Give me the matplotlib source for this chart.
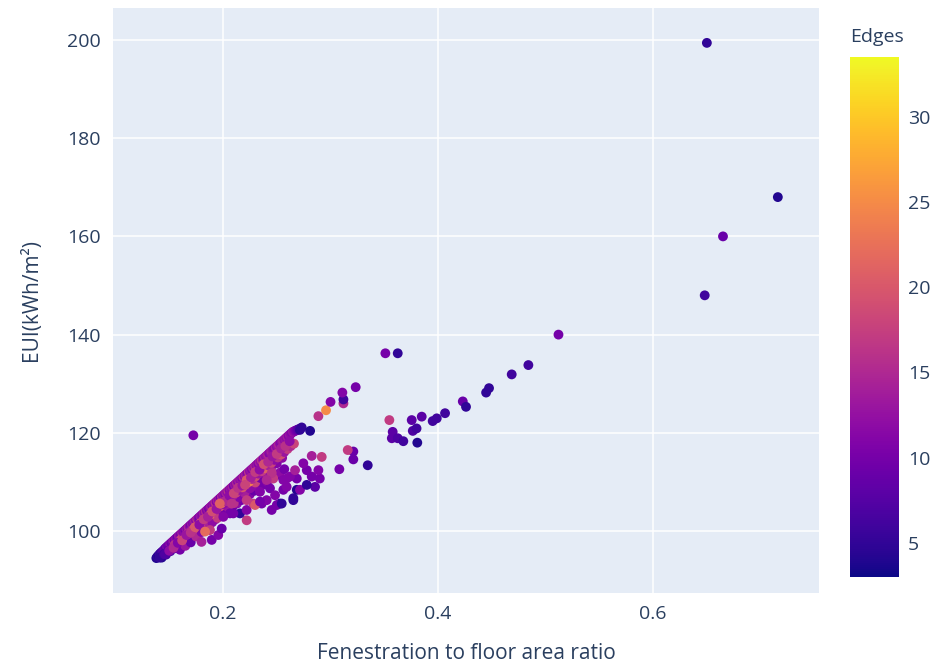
import matplotlib
matplotlib.use("Agg")
import matplotlib.pyplot as plt
import numpy as np

# ---- data (x = fenestration/floor area, y = EUI, c = edges) ----
band_x = [0.138, 0.139, 0.140, 0.141, 0.142, 0.143, 0.144, 0.145, 0.146, 0.147, 0.148,
          0.149, 0.150, 0.151, 0.152, 0.153, 0.154, 0.155, 0.156, 0.157, 0.158, 0.159,
          0.160, 0.161, 0.162, 0.163, 0.164, 0.165, 0.166, 0.167, 0.168, 0.169, 0.170,
          0.171, 0.172, 0.173, 0.174, 0.175, 0.176, 0.177, 0.178, 0.179, 0.180, 0.181,
          0.182, 0.183, 0.184, 0.185, 0.186, 0.187, 0.188, 0.189, 0.190, 0.191, 0.192,
          0.193, 0.194, 0.195, 0.196, 0.197, 0.198, 0.199, 0.200, 0.201, 0.202, 0.203,
          0.204, 0.205, 0.206, 0.207, 0.208, 0.209, 0.210, 0.211, 0.212, 0.213, 0.214,
          0.215, 0.216, 0.217, 0.218, 0.219, 0.220, 0.221, 0.222, 0.223, 0.224, 0.225,
          0.226, 0.227, 0.228, 0.229, 0.230, 0.231, 0.232, 0.233, 0.234, 0.235, 0.236,
          0.237, 0.238, 0.239, 0.240, 0.241, 0.242, 0.243, 0.244, 0.245, 0.246, 0.247,
          0.248, 0.249, 0.250, 0.251, 0.252, 0.253, 0.254, 0.255, 0.256, 0.257, 0.258,
          0.259, 0.260, 0.261, 0.262, 0.263, 0.264, 0.265, 0.266, 0.267, 0.268, 0.269,
          0.270, 0.271]
band_hi = [94.5, 94.8, 95.0, 95.3, 95.5, 95.7, 95.9, 96.1, 96.4, 96.6, 96.8,
           97.0, 97.2, 97.4, 97.6, 97.8, 98.0, 98.2, 98.4, 98.6, 98.8, 99.0,
           99.2, 99.4, 99.6, 99.8, 100.0, 100.2, 100.4, 100.6, 100.8, 101.0, 101.2,
           101.4, 101.6, 101.8, 102.0, 102.2, 102.4, 102.6, 102.8, 103.0, 103.2, 103.4,
           103.6, 103.8, 104.0, 104.2, 104.4, 104.6, 104.8, 105.0, 105.2, 105.4, 105.6,
           105.8, 106.0, 106.2, 106.4, 106.6, 106.8, 107.0, 107.2, 107.4, 107.6, 107.8,
           108.0, 108.2, 108.4, 108.6, 108.8, 109.0, 109.2, 109.4, 109.6, 109.8, 110.0,
           110.2, 110.4, 110.6, 110.8, 111.0, 111.2, 111.4, 111.6, 111.8, 112.0, 112.2,
           112.4, 112.6, 112.8, 113.0, 113.2, 113.4, 113.6, 113.8, 114.0, 114.2, 114.4,
           114.6, 114.8, 115.0, 115.2, 115.4, 115.6, 115.8, 116.0, 116.2, 116.4, 116.6,
           116.8, 117.0, 117.2, 117.4, 117.6, 117.8, 118.0, 118.2, 118.4, 118.6, 118.8,
           119.0, 119.2, 119.4, 119.6, 119.8, 120.0, 120.2, 120.3, 120.4, 120.5, 120.6,
           120.7, 120.8]
band_hi_c = [4, 5, 4, 6, 5, 6, 7, 8, 9, 8, 11,
             9, 10, 12, 9, 11, 13, 10, 12, 11, 9, 13,
             12, 10, 14, 11, 12, 10, 13, 11, 15, 12, 10,
             13, 11, 12, 14, 11, 16, 12, 10, 13, 12, 11,
             14, 12, 15, 11, 13, 10, 12, 14, 11, 13, 12,
             16, 11, 14, 12, 13, 10, 15, 12, 13, 11, 14,
             12, 16, 11, 13, 12, 14, 10, 13, 12, 15, 11,
             14, 12, 13, 11, 15, 12, 14, 13, 11, 16, 12,
             13, 11, 14, 12, 15, 12, 13, 11, 14, 12, 16,
             13, 11, 14, 12, 13, 15, 11, 12, 14, 13, 12,
             11, 14, 12, 13, 15, 12, 11, 13, 14, 12, 13,
             12, 14, 11, 13, 12, 11, 13, 12, 11, 10, 9,
             8, 7]

row_a_x = [0.146, 0.150, 0.154, 0.158, 0.162, 0.166, 0.170, 0.174, 0.178, 0.182,
           0.186, 0.190, 0.194, 0.198, 0.202, 0.206, 0.210, 0.214, 0.218, 0.222,
           0.226, 0.230, 0.234, 0.238, 0.242, 0.246, 0.250, 0.254, 0.258, 0.262]
row_a_y = [95.3, 96.0, 96.6, 97.6, 98.1, 99.2, 99.7, 100.8, 101.3, 102.4,
           102.9, 104.0, 104.5, 105.6, 106.1, 107.2, 107.7, 108.8, 109.3, 110.4,
           110.9, 112.0, 112.5, 113.6, 114.1, 115.2, 115.7, 116.8, 117.3, 118.3]
row_a_c = [7, 12, 15, 11, 18, 13, 16, 20, 12, 17,
           14, 19, 13, 22, 15, 12, 18, 16, 13, 20,
           14, 17, 12, 19, 15, 13, 17, 14, 16, 12]

row_b_x = [0.160, 0.165, 0.170, 0.175, 0.180, 0.185, 0.190, 0.195, 0.200, 0.205,
           0.210, 0.215, 0.220, 0.225, 0.230, 0.235, 0.240, 0.245, 0.250, 0.255]
row_b_y = [96.2, 97.0, 97.7, 98.9, 99.8, 100.7, 101.8, 102.7, 103.9, 104.8,
           105.7, 106.9, 107.8, 108.7, 109.9, 110.8, 111.7, 112.9, 113.8, 114.9]
row_b_c = [10, 13, 9, 15, 11, 14, 12, 17, 10, 13,
           16, 11, 14, 12, 18, 10, 13, 15, 11, 12]

mid_x = [0.141, 0.145, 0.149, 0.152, 0.155, 0.158, 0.161, 0.164, 0.167, 0.170,
         0.173, 0.176, 0.179, 0.182, 0.185, 0.188, 0.191, 0.194, 0.197, 0.200,
         0.203, 0.206, 0.209, 0.212, 0.215, 0.218, 0.221, 0.224, 0.227, 0.230,
         0.233, 0.236, 0.239, 0.242, 0.245, 0.248, 0.251, 0.254, 0.257, 0.260,
         0.263, 0.266]
mid_y = [94.6, 95.3, 96.0, 96.6, 97.2, 97.7, 98.3, 98.9, 99.4, 100.0,
         100.5, 101.1, 101.6, 102.2, 102.8, 103.3, 103.9, 104.4, 105.0, 105.5,
         106.1, 106.7, 107.2, 107.8, 108.3, 108.9, 109.5, 110.0, 110.6, 111.1,
         111.7, 112.2, 112.8, 113.4, 113.9, 114.5, 115.0, 115.6, 116.1, 116.7,
         117.3, 117.8]
mid_c = [5, 6, 8, 10, 16, 13, 18, 12, 17, 14,
         19, 12, 20, 15, 13, 21, 17, 14, 19, 12,
         16, 22, 14, 18, 13, 20, 16, 24, 15, 19,
         13, 17, 21, 14, 18, 12, 16, 19, 13, 17,
         15, 18]

low_x = [0.143, 0.147, 0.151, 0.155, 0.159, 0.163, 0.167, 0.171, 0.175, 0.180,
         0.184, 0.189, 0.193, 0.197, 0.201, 0.205, 0.209, 0.213, 0.217, 0.221,
         0.225, 0.229, 0.233, 0.237, 0.241, 0.245, 0.249, 0.253, 0.257]
low_y = [94.6, 95.2, 95.9, 96.5, 97.2, 97.8, 98.4, 99.1, 99.6, 100.4,
         101.0, 101.8, 102.4, 103.0, 103.7, 104.3, 105.0, 105.6, 106.3, 106.9,
         107.5, 108.2, 108.8, 109.4, 110.0, 110.7, 111.3, 111.9, 112.6]
low_c = [4, 6, 7, 9, 8, 11, 9, 12, 10, 13,
         11, 9, 12, 10, 14, 11, 9, 12, 10, 13,
         11, 9, 12, 10, 11, 13, 9, 12, 10]

spread_x = [0.180, 0.1895, 0.1956, 0.1988, 0.1879, 0.222, 0.2065, 0.2158, 0.1833,
            0.2003, 0.2081, 0.2096, 0.222, 0.2282, 0.236, 0.2344, 0.2468, 0.2453,
            0.2406, 0.2437, 0.253, 0.2686, 0.2654, 0.2561, 0.2686, 0.2593, 0.2298,
            0.2344, 0.222, 0.2500, 0.2484, 0.2546, 0.2654, 0.2592, 0.2561, 0.2623,
            0.2716, 0.2856, 0.2779, 0.290, 0.2825, 0.2887, 0.2779, 0.267, 0.2747,
            0.2825, 0.2918, 0.3082, 0.3212, 0.3212, 0.316, 0.3346, 0.2453, 0.2406,
            0.197, 0.2205]
spread_y = [97.8, 98.2, 99.2, 100.5, 100.2, 102.2, 103.6, 103.6, 99.9,
            102.9, 105.6, 103.6, 104.3, 105.6, 105.6, 108.0, 110.7, 104.3,
            106.3, 108.7, 105.6, 108.4, 106.3, 108.4, 110.7, 110.7, 105.3,
            106.0, 106.3, 105.3, 107.3, 105.6, 106.7, 109.0, 110.4, 111.1,
            108.4, 109.0, 109.4, 110.7, 111.1, 112.4, 112.4, 112.4, 113.8,
            115.3, 115.1, 112.6, 116.2, 114.6, 116.5, 113.4, 111.8, 110.4,
            105.6, 109.4]
spread_c = [14, 10, 11, 9, 17, 17, 10, 5, 22,
            11, 16, 10, 11, 17, 10, 11, 17, 10,
            11, 10, 5, 4, 5, 10, 10, 11, 20,
            10, 17, 10, 11, 5, 5, 11, 11, 11,
            11, 8, 5, 10, 10, 11, 10, 14, 11,
            14, 17, 10, 9, 9, 17, 5, 16, 15,
            21, 18]

out_x = [0.1724, 0.2732, 0.281, 0.2716, 0.2887, 0.2958, 0.300, 0.312, 0.312, 0.311,
         0.3234, 0.351, 0.3625, 0.3547, 0.3578, 0.357, 0.3625, 0.3677, 0.3807,
         0.3755, 0.3765, 0.3848, 0.380, 0.395, 0.3988, 0.4065, 0.423, 0.426,
         0.4447, 0.4474, 0.4685, 0.484, 0.512, 0.648, 0.665, 0.716, 0.650]
out_y = [119.5, 121.1, 120.4, 120.6, 123.4, 124.6, 126.3, 126.0, 126.8, 128.2,
         129.3, 136.2, 136.2, 122.6, 120.2, 118.9, 118.9, 118.3, 118.0,
         122.6, 120.4, 123.3, 120.9, 122.4, 122.95, 124.0, 126.4, 125.3,
         128.2, 129.1, 131.9, 133.8, 140.0, 148.0, 160.0, 168.0, 199.4]
out_c = [10, 5, 4, 5, 16, 25, 11, 15, 6, 11,
         10, 10, 5, 17, 8, 8, 7, 6, 4,
         8, 7, 8, 6, 6, 6, 6, 9, 5,
         5, 5, 6, 6, 10, 6, 9, 4, 5]

xs = np.array(band_x + low_x + row_b_x + mid_x + row_a_x + spread_x + out_x)
ys = np.array(band_hi + low_y + row_b_y + mid_y + row_a_y + spread_y + out_y)
cs = np.array(band_hi_c + low_c + row_b_c + mid_c + row_a_c + spread_c + out_c)

INK = "#2a3f5f"
BG = "#E5ECF6"
FONT = ["Open Sans", "DejaVu Sans"]

fig = plt.figure(figsize=(9.34, 6.67), dpi=100)
ax = fig.add_axes([0.121, 0.111, 0.756, 0.877])
ax.set_facecolor(BG)
for s in ax.spines.values():
    s.set_visible(False)
ax.grid(True, color="white", lw=1.1)
ax.set_axisbelow(True)

sc = ax.scatter(xs, ys, c=cs, cmap="plasma", vmin=3, vmax=33.5, s=50,
                edgecolors="none", zorder=3)

ax.set_xlim(0.0977, 0.7544)
ax.set_ylim(87.4, 206.5)
ax.set_xticks([0.2, 0.4, 0.6])
ax.set_xticklabels(["0.2", "0.4", "0.6"])
ax.set_yticks([100, 120, 140, 160, 180, 200])
ax.tick_params(length=0, labelsize=14, labelcolor=INK, pad=9)
for t in ax.get_xticklabels() + ax.get_yticklabels():
    t.set_family(FONT)

ax.set_xlabel("Fenestration to floor area ratio", fontsize=15, color=INK, family=FONT, labelpad=14)
ax.set_ylabel("EUI(kWh/m²)", fontsize=15, color=INK, family=FONT, labelpad=18)

cax = fig.add_axes([0.910, 0.135, 0.053, 0.7795])
cb = fig.colorbar(sc, cax=cax)
cb.outline.set_visible(False)
cb.set_ticks([5, 10, 15, 20, 25, 30])
cax.tick_params(length=0, labelsize=14, labelcolor=INK, pad=6)
for t in cax.get_yticklabels():
    t.set_family(FONT)
fig.text(0.910, 0.945, "Edges", fontsize=14, color=INK, family=FONT, ha="left", va="center")

fig.savefig("out.png", dpi=100)
